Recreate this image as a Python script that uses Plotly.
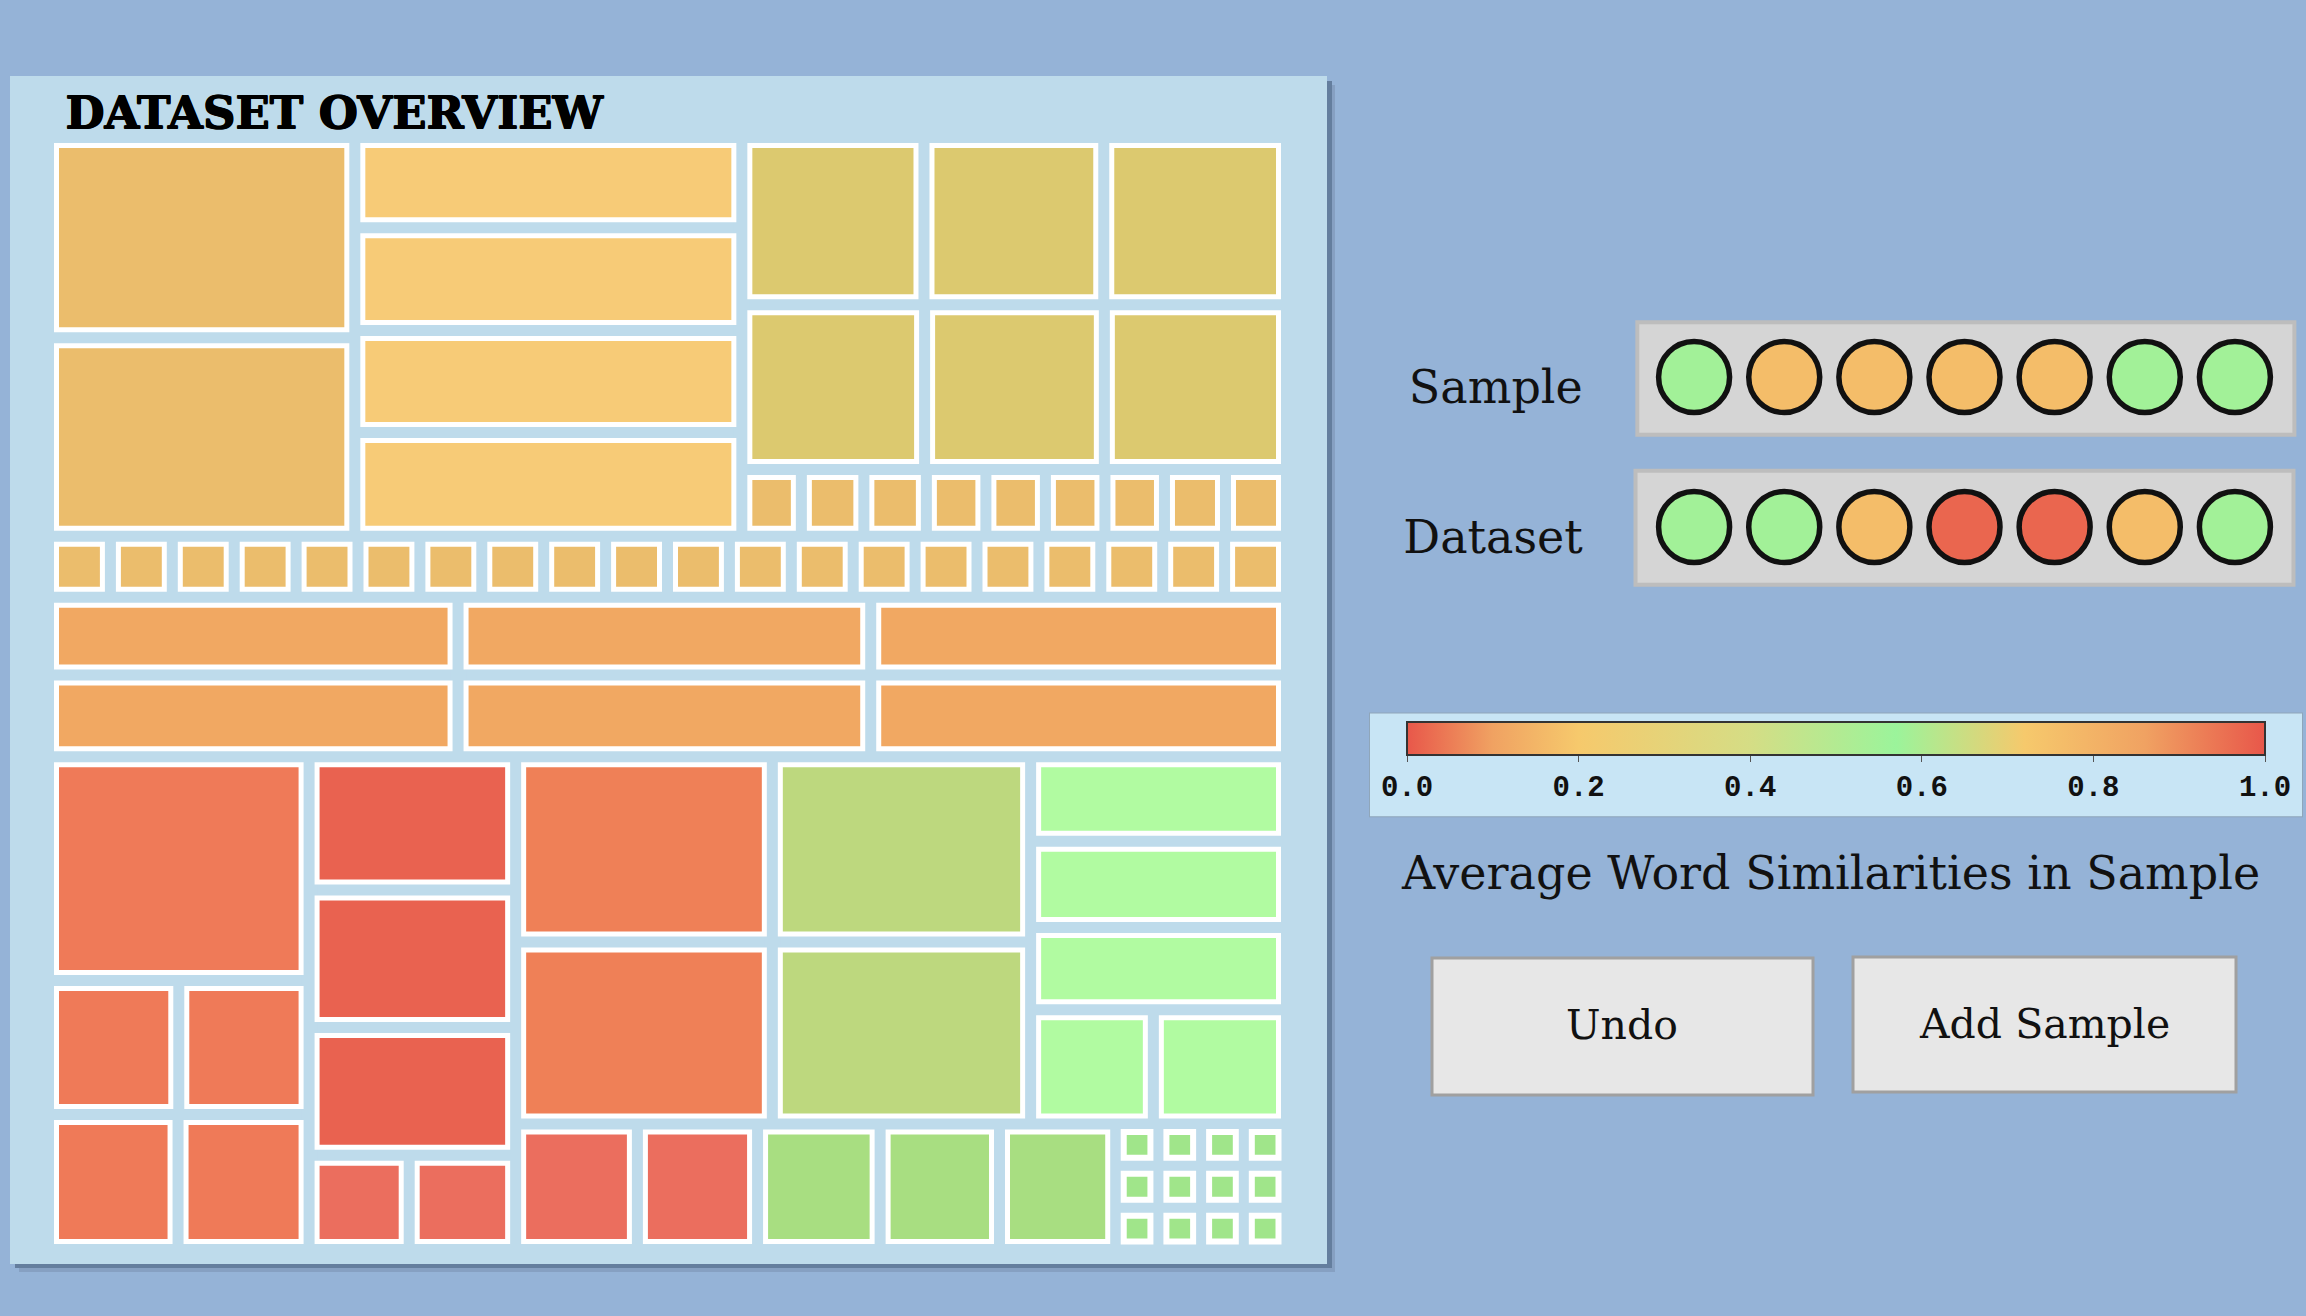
import plotly.graph_objects as go

W, H = 2306, 1316

# ---- treemap cells: sizes (area units) per cluster ----
a_left = [618, 612]
a_middle = [352, 400, 398, 404]
a_right_row1 = [307, 303, 308]
a_right_row2 = [303, 298, 302]
a_right_small = [40, 42, 42, 40, 40, 40, 40, 41, 41]
b_small = [38, 38, 38, 38, 38, 38, 38, 38, 38, 38,
           38, 38, 38, 38, 38, 38, 38, 38, 38, 38]
c_left = [321, 337]
c_middle = [323, 340]
c_right = [326, 342]
d1_big = [587]
d1_row1 = [176, 176]
d1_row2 = [176, 178]
d2_stack = [277, 286, 266]
d2_small = [95, 101]
d3_stack = [479, 470]
d4_stack = [482, 473]
d5_stack = [218, 222, 212]
d5_small = [141, 153]
bottom_red = [154, 152]
bottom_green = [155, 151, 147]
bottom_grid = [[18, 18, 18, 18], [18, 18, 18, 18], [18, 18, 18, 18]]

# ---- right panel: word similarity per position ----
words = [1, 2, 3, 4, 5, 6, 7]
sample_sim = [0.55, 0.17, 0.17, 0.17, 0.17, 0.55, 0.55]
dataset_sim = [0.55, 0.55, 0.17, 0.02, 0.02, 0.17, 0.55]
scale_ticks = [0.0, 0.2, 0.4, 0.6, 0.8, 1.0]
scale_labels = ["0.0", "0.2", "0.4", "0.6", "0.8", "1.0"]

BG = "#95B3D7"
PANEL = "#BEDBEB"
cluster_colors = {
    "tan": "#EBBD6C", "sand": "#F7CB77", "olive": "#DCC96F", "orange": "#F1A862",
    "salmon": "#EF7A58", "red": "#E96250", "coral": "#EB6E5E", "brick": "#EF8057",
    "lime": "#BDD87E", "green": "#A8DE81", "mint": "#B1FBA1", "grass": "#A0E58A",
}
sim_scale = [
    [0.0, "#E8574A"], [0.1, "#F0A262"], [0.2, "#F6C96C"], [0.4, "#D5DD85"],
    [0.57, "#9BF49B"], [0.72, "#F6C96C"], [0.86, "#F0A262"], [1.0, "#E8574A"],
]

ids, parents, values, colors, widths = [], [], [], [], []


def group(gid, parent):
    ids.append(gid)
    parents.append(parent)
    values.append(0)
    colors.append(PANEL)
    widths.append(0)
    return gid


def leaves(parent, vals, color, border=5):
    for v in vals:
        ids.append(f"{parent}.{len(ids)}")
        parents.append(parent)
        values.append(v)
        colors.append(cluster_colors[color])
        widths.append(border)


# root rows -> columns -> rows ... (dice-slice alternates by depth)
root = group("overview", "")

A = group("A", root)
leaves(group("A1", A), a_left, "tan")
leaves(group("A2", A), a_middle, "sand")
A3 = group("A3", A)
leaves(group("A3r1", A3), a_right_row1, "olive")
leaves(group("A3r2", A3), a_right_row2, "olive")
leaves(group("A3r3", A3), a_right_small, "tan")

B = group("B", root)
leaves(B, b_small, "tan")

C = group("C", root)
for i, col in enumerate([c_left, c_middle, c_right]):
    leaves(group(f"C{i}", C), col, "orange")

D = group("D", root)
D1 = group("D1", D)
leaves(D1, d1_big, "salmon")
leaves(group("D1r1", D1), d1_row1, "salmon")
leaves(group("D1r2", D1), d1_row2, "salmon")
D2 = group("D2", D)
leaves(D2, d2_stack, "red")
leaves(group("D2r", D2), d2_small, "coral")
DR = group("DR", D)
top = group("DRt", DR)
leaves(group("D3", top), d3_stack, "brick")
leaves(group("D4", top), d4_stack, "lime")
D5 = group("D5", top)
leaves(D5, d5_stack, "mint")
leaves(group("D5r", D5), d5_small, "mint")
bot = group("DRb", DR)
leaves(bot, bottom_red, "coral")
leaves(bot, bottom_green, "green")
grid = group("grid", bot)
for i, row in enumerate(bottom_grid):
    leaves(group(f"grid{i}", grid), row, "grass", border=6)


def fx(x):
    return x / W


def fy(y):
    return 1 - y / H


fig = go.Figure()

fig.add_trace(go.Treemap(
    ids=ids, labels=ids, parents=parents, values=values,
    branchvalues="remainder", sort=False,
    marker=dict(colors=colors, line=dict(color="white", width=widths),
                pad=dict(t=0, l=0, r=0, b=0)),
    tiling=dict(packing="dice-slice", pad=16),
    textinfo="none",
    pathbar=dict(visible=False),
    hoverinfo="skip",
    domain=dict(x=[fx(56.5), fx(1278.5)], y=[fy(1241.5), fy(145.5)]),
))

fig.add_trace(go.Scatter(
    x=words + words,
    y=["Sample"] * len(words) + ["Dataset"] * len(words),
    mode="markers",
    marker=dict(
        size=71, color=sample_sim + dataset_sim, colorscale=sim_scale, cmin=0, cmax=1,
        line=dict(color="#111111", width=5.5),
        showscale=True,
        colorbar=dict(
            orientation="h", x=fx(1836), xanchor="center", y=fy(713), yanchor="top",
            len=930, lenmode="pixels", thickness=33, thicknessmode="pixels",
            bgcolor="#C8E5F5", bordercolor="#8FA6BA", borderwidth=1, xpad=36, ypad=9,
            outlinecolor="#333333", outlinewidth=2,
            tickmode="array", tickvals=scale_ticks, ticktext=scale_labels,
            ticks="outside", ticklen=6, tickwidth=1, tickcolor="#555555",
            tickfont=dict(family="Liberation Mono", size=29, color="#111111", weight="bold"),
        ),
    ),
    hoverinfo="skip", showlegend=False,
))

fig.update_xaxes(domain=[fx(1631), fx(2298)], range=[0.3, 7.7], visible=False)
fig.update_yaxes(
    domain=[fy(594.5), fy(309.5)], range=[-0.45, 1.45],
    type="category", categoryorder="array", categoryarray=["Dataset", "Sample"],
    showgrid=False, zeroline=False, showline=False,
    ticks="outside", ticklen=38, tickcolor="rgba(0,0,0,0)", ticklabelshift=10,
    tickfont=dict(family="DejaVu Serif", size=46, color="#111111"),
)

shapes = [
    # panel shadow + panel
    dict(type="rect", xref="paper", yref="paper", layer="below",
         x0=fx(19), x1=fx(1335), y0=fy(1272), y1=fy(85),
         fillcolor="#86A0C2", line=dict(width=0)),
    dict(type="rect", xref="paper", yref="paper", layer="below",
         x0=fx(15), x1=fx(1332), y0=fy(1268), y1=fy(81),
         fillcolor="#647E9E", line=dict(width=0)),
    dict(type="rect", xref="paper", yref="paper", layer="below",
         x0=fx(10), x1=fx(1327), y0=fy(1264), y1=fy(76),
         fillcolor=PANEL, line=dict(width=0)),
    # word rows
    dict(type="rect", xref="x", yref="y", layer="below",
         x0=0.37, x1=7.66, y0=0.615, y1=1.365,
         fillcolor="#D5D5D5", line=dict(color="#BDBDBD", width=4)),
    dict(type="rect", xref="x", yref="y", layer="below",
         x0=0.35, x1=7.65, y0=-0.385, y1=0.375,
         fillcolor="#D5D5D5", line=dict(color="#BDBDBD", width=4)),
    # buttons
    dict(type="rect", xref="paper", yref="paper",
         x0=fx(1432), x1=fx(1813), y0=fy(1095), y1=fy(958),
         fillcolor="#E7E7E7", line=dict(color="#A0A0A0", width=3)),
    dict(type="rect", xref="paper", yref="paper",
         x0=fx(1853), x1=fx(2236), y0=fy(1092), y1=fy(957),
         fillcolor="#E7E7E7", line=dict(color="#A0A0A0", width=3)),
]

serif = "DejaVu Serif"
annotations = [
    dict(text="DATASET OVERVIEW", x=fx(63), y=fy(112), xanchor="left", yanchor="middle",
         font=dict(family=serif, size=45, color="#000000", weight="bold",
                   shadow="1px 0px 0px #000, 0px 1px 0px #000, 1px 1px 0px #000")),
    dict(text="Average Word Similarities in Sample", x=fx(1830), y=fy(873),
         xanchor="center", yanchor="middle",
         font=dict(family=serif, size=46, color="#111111")),
    dict(text="Undo", x=fx(1622), y=fy(1025), xanchor="center", yanchor="middle",
         font=dict(family=serif, size=41, color="#111111")),
    dict(text="Add Sample", x=fx(2044), y=fy(1024), xanchor="center", yanchor="middle",
         font=dict(family=serif, size=41, color="#111111")),
]
for a in annotations:
    a.update(xref="paper", yref="paper", showarrow=False)

fig.update_layout(
    width=W, height=H,
    margin=dict(l=0, r=0, t=0, b=0),
    paper_bgcolor=BG, plot_bgcolor="rgba(0,0,0,0)",
    shapes=shapes, annotations=annotations,
    showlegend=False,
)

# page body has a default 8px margin; drop it so the figure fills the window
fig.write_html("out.html", config={"displayModeBar": False},
               post_script="document.body.style.margin='0';"
                           "document.body.style.backgroundColor='#95B3D7';")
